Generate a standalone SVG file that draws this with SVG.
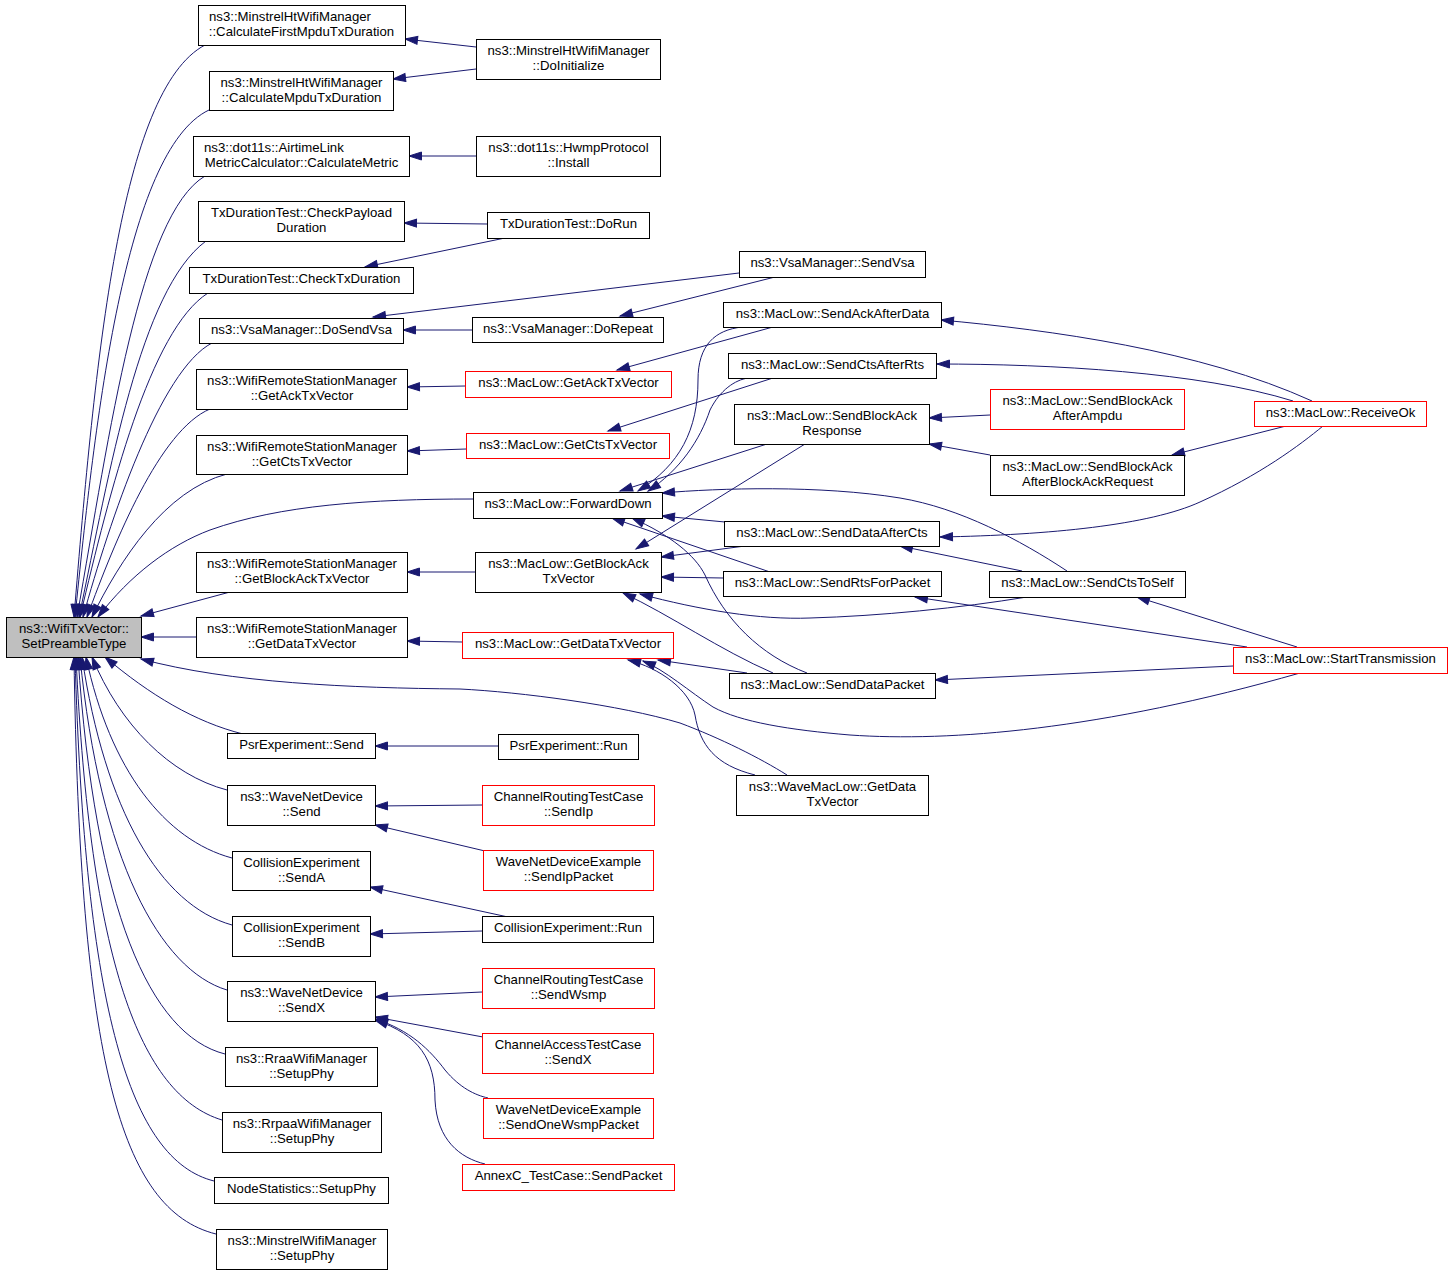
<svg xmlns="http://www.w3.org/2000/svg" width="1456" height="1275" viewBox="0 0 1456 1275">
<style>
.b{fill:#fff;stroke:#000;stroke-width:1}
.r{fill:#fff;stroke:#ff0000;stroke-width:1}
.g{fill:#bfbfbf;stroke:#000;stroke-width:1}
text{font-family:"Liberation Sans",Arial,Helvetica,sans-serif;font-size:13.2px;fill:#000;text-anchor:middle}
text.s{text-anchor:start}
#edges path{fill:none;stroke:#191970;stroke-width:1;marker-start:url(#a)}
</style>
<defs>
<marker id="a" markerWidth="14" markerHeight="10" refX="13" refY="4.5" orient="auto-start-reverse" markerUnits="userSpaceOnUse" overflow="visible">
<path d="M0.5,0.5 L13,4.5 L0.5,8.5 z" fill="#191970" stroke="#191970" stroke-width="1"/>
</marker>
</defs>
<rect width="1456" height="1275" fill="#fff"/>
<g id="edges">
<path d="M74,617 C95,360 120,90 205,45"/>
<path d="M75,617 C95,420 125,150 209,110"/>
<path d="M77,617 C110,430 140,215 205,176"/>
<path d="M79,617 C110,470 140,290 206,241"/>
<path d="M80,617 C110,490 150,330 208,293"/>
<path d="M83,617 C110,520 160,370 212,343"/>
<path d="M87,617 C115,540 160,430 210,409"/>
<path d="M92,617 C120,560 165,490 227,474"/>
<path d="M98,617 C130,575 170,545 210,530 C280,505 370,499 473,499"/>
<path d="M141,616 L230,592"/>
<path d="M141,637 L196,637"/>
<path d="M141,659 C230,683 350,688 460,689 C520,692 620,705 680,723 C720,738 760,758 787,775"/>
<path d="M105,657 C150,695 195,722 243,734"/>
<path d="M92,657 C120,725 170,775 227,790"/>
<path d="M86,657 C110,770 165,840 232,858"/>
<path d="M82,657 C105,810 160,905 232,925"/>
<path d="M80,657 C100,860 160,970 227,990"/>
<path d="M78,657 C95,910 150,1035 225,1054"/>
<path d="M76,657 C90,960 140,1095 222,1120"/>
<path d="M75,657 C85,1010 130,1160 214,1181"/>
<path d="M74,657 C80,1060 120,1210 216,1234"/>
<path d="M405,39 L476,47"/>
<path d="M393,79 L476,69"/>
<path d="M409,156 L476,156"/>
<path d="M404,223 L487,224"/>
<path d="M365,267 L505,238"/>
<path d="M373,317 L739,273"/>
<path d="M403,330 L472,330"/>
<path d="M620,316 L775,277"/>
<path d="M407,387 L465,386"/>
<path d="M407,451 L466,449"/>
<path d="M407,572 L475,572"/>
<path d="M407,641 L462,642"/>
<path d="M617,370 L773,327"/>
<path d="M608,431 L773,378"/>
<path d="M638,491 C680,465 698,430 698,380 C698,345 715,330 742,327"/>
<path d="M648,491 C680,470 700,440 710,410 C720,390 735,380 748,378"/>
<path d="M620,491 L767,444"/>
<path d="M662,493 C720,488 820,485 900,498 C960,508 1020,540 1067,571"/>
<path d="M662,516 L725,522"/>
<path d="M612,518 L770,572"/>
<path d="M632,518 C670,535 695,555 705,575 C725,620 760,655 807,673"/>
<path d="M636,549 L805,444"/>
<path d="M661,557 L745,546"/>
<path d="M661,577 L723,578"/>
<path d="M640,594 C700,610 760,620 810,618 C880,616 960,608 1027,597"/>
<path d="M623,593 C670,615 720,650 773,673"/>
<path d="M658,660 L747,673"/>
<path d="M643,661 C665,670 690,692 713,707 C740,722 790,730 850,735 C950,742 1100,730 1300,673"/>
<path d="M628,660 C660,668 690,690 695,715 C700,745 715,765 755,775"/>
<path d="M941,320 C1050,330 1200,350 1312,401"/>
<path d="M937,364 C1050,364 1200,372 1293,401"/>
<path d="M929,418 L990,415"/>
<path d="M929,444 L990,455"/>
<path d="M1172,455 L1286,426"/>
<path d="M940,537 C1050,535 1150,525 1200,502 C1260,475 1300,445 1323,426"/>
<path d="M900,546 L1022,571"/>
<path d="M915,597 L1247,647"/>
<path d="M1137,597 L1297,647"/>
<path d="M935,680 L1233,666"/>
<path d="M375,746 L498,746"/>
<path d="M375,806 L482,805"/>
<path d="M375,825 L485,851"/>
<path d="M370,887 L508,917"/>
<path d="M370,934 L482,931"/>
<path d="M375,997 L482,992"/>
<path d="M375,1017 L483,1037"/>
<path d="M375,1019 C410,1030 430,1050 445,1070 C460,1088 475,1095 488,1098"/>
<path d="M375,1020 C420,1035 435,1060 435,1100 C437,1140 460,1158 485,1164"/>
</g>
<g id="root"><rect class="g" x="6.5" y="617.5" width="135" height="40"/><text x="74" y="633">ns3::WifiTxVector::</text><text x="74" y="648">SetPreambleType</text></g>
<g id="n1"><rect class="b" x="198.5" y="5.5" width="207" height="40"/><text class="s" x="209" y="21">ns3::MinstrelHtWifiManager</text><text x="301.5" y="36">::CalculateFirstMpduTxDuration</text></g>
<g id="n2"><rect class="b" x="209.5" y="71.5" width="184" height="39"/><text x="301.5" y="87">ns3::MinstrelHtWifiManager</text><text x="301.5" y="102">::CalculateMpduTxDuration</text></g>
<g id="n3"><rect class="b" x="193.5" y="136.5" width="216" height="40"/><text class="s" x="204" y="152">ns3::dot11s::AirtimeLink</text><text x="301.5" y="167">MetricCalculator::CalculateMetric</text></g>
<g id="n4"><rect class="b" x="198.5" y="201.5" width="206" height="40"/><text x="301.5" y="217">TxDurationTest::CheckPayload</text><text x="301.5" y="232">Duration</text></g>
<g id="n5"><rect class="b" x="189.5" y="267.5" width="224" height="26"/><text x="301.5" y="283">TxDurationTest::CheckTxDuration</text></g>
<g id="n6"><rect class="b" x="476.5" y="39.5" width="184" height="40"/><text x="568.5" y="55">ns3::MinstrelHtWifiManager</text><text x="568.5" y="70">::DoInitialize</text></g>
<g id="n7"><rect class="b" x="476.5" y="136.5" width="184" height="40"/><text x="568.5" y="152">ns3::dot11s::HwmpProtocol</text><text x="568.5" y="167">::Install</text></g>
<g id="n8"><rect class="b" x="487.5" y="212.5" width="162" height="26"/><text x="568.5" y="228">TxDurationTest::DoRun</text></g>
<g id="n9"><rect class="b" x="739.5" y="251.5" width="186" height="26"/><text x="832.5" y="267">ns3::VsaManager::SendVsa</text></g>
<g id="n10"><rect class="b" x="199.5" y="318.5" width="204" height="25"/><text x="301.5" y="334">ns3::VsaManager::DoSendVsa</text></g>
<g id="n11"><rect class="b" x="196.5" y="369.5" width="211" height="40"/><text x="302" y="385">ns3::WifiRemoteStationManager</text><text x="302" y="400">::GetAckTxVector</text></g>
<g id="n12"><rect class="b" x="196.5" y="435.5" width="211" height="39"/><text x="302" y="451">ns3::WifiRemoteStationManager</text><text x="302" y="466">::GetCtsTxVector</text></g>
<g id="n13"><rect class="b" x="196.5" y="552.5" width="211" height="40"/><text x="302" y="568">ns3::WifiRemoteStationManager</text><text x="302" y="583">::GetBlockAckTxVector</text></g>
<g id="n14"><rect class="b" x="196.5" y="617.5" width="211" height="40"/><text x="302" y="633">ns3::WifiRemoteStationManager</text><text x="302" y="648">::GetDataTxVector</text></g>
<g id="n16"><rect class="b" x="472.5" y="317.5" width="191" height="25"/><text x="568" y="333">ns3::VsaManager::DoRepeat</text></g>
<g id="n17"><rect class="r" x="465.5" y="371.5" width="206" height="26"/><text x="568.5" y="387">ns3::MacLow::GetAckTxVector</text></g>
<g id="n18"><rect class="r" x="466.5" y="433.5" width="203" height="25"/><text x="568" y="449">ns3::MacLow::GetCtsTxVector</text></g>
<g id="n19"><rect class="b" x="473.5" y="492.5" width="189" height="26"/><text x="568" y="508">ns3::MacLow::ForwardDown</text></g>
<g id="n20"><rect class="b" x="475.5" y="552.5" width="186" height="40"/><text x="568.5" y="568">ns3::MacLow::GetBlockAck</text><text x="568.5" y="583">TxVector</text></g>
<g id="n21"><rect class="r" x="462.5" y="632.5" width="211" height="26"/><text x="568" y="648">ns3::MacLow::GetDataTxVector</text></g>
<g id="n22"><rect class="b" x="723.5" y="302.5" width="218" height="25"/><text x="832.5" y="318">ns3::MacLow::SendAckAfterData</text></g>
<g id="n23"><rect class="b" x="728.5" y="353.5" width="208" height="25"/><text x="832.5" y="369">ns3::MacLow::SendCtsAfterRts</text></g>
<g id="n24"><rect class="b" x="734.5" y="404.5" width="195" height="40"/><text x="832" y="420">ns3::MacLow::SendBlockAck</text><text x="832" y="435">Response</text></g>
<g id="n25"><rect class="b" x="724.5" y="521.5" width="215" height="25"/><text x="832" y="537">ns3::MacLow::SendDataAfterCts</text></g>
<g id="n26"><rect class="b" x="723.5" y="571.5" width="218" height="25"/><text x="832.5" y="587">ns3::MacLow::SendRtsForPacket</text></g>
<g id="n27"><rect class="b" x="729.5" y="673.5" width="206" height="25"/><text x="832.5" y="689">ns3::MacLow::SendDataPacket</text></g>
<g id="n28"><rect class="r" x="990.5" y="389.5" width="194" height="40"/><text x="1087.5" y="405">ns3::MacLow::SendBlockAck</text><text x="1087.5" y="420">AfterAmpdu</text></g>
<g id="n29"><rect class="b" x="990.5" y="455.5" width="194" height="40"/><text x="1087.5" y="471">ns3::MacLow::SendBlockAck</text><text x="1087.5" y="486">AfterBlockAckRequest</text></g>
<g id="n30"><rect class="r" x="1254.5" y="401.5" width="172" height="25"/><text x="1340.5" y="417">ns3::MacLow::ReceiveOk</text></g>
<g id="n31"><rect class="b" x="989.5" y="571.5" width="196" height="26"/><text x="1087.5" y="587">ns3::MacLow::SendCtsToSelf</text></g>
<g id="n32"><rect class="r" x="1233.5" y="647.5" width="214" height="26"/><text x="1340.5" y="663">ns3::MacLow::StartTransmission</text></g>
<g id="n33"><rect class="b" x="227.5" y="733.5" width="148" height="25"/><text x="301.5" y="749">PsrExperiment::Send</text></g>
<g id="n34"><rect class="b" x="227.5" y="785.5" width="148" height="40"/><text x="301.5" y="801">ns3::WaveNetDevice</text><text x="301.5" y="816">::Send</text></g>
<g id="n35"><rect class="b" x="232.5" y="851.5" width="138" height="39"/><text x="301.5" y="867">CollisionExperiment</text><text x="301.5" y="882">::SendA</text></g>
<g id="n36"><rect class="b" x="232.5" y="916.5" width="138" height="40"/><text x="301.5" y="932">CollisionExperiment</text><text x="301.5" y="947">::SendB</text></g>
<g id="n37"><rect class="b" x="227.5" y="981.5" width="148" height="40"/><text x="301.5" y="997">ns3::WaveNetDevice</text><text x="301.5" y="1012">::SendX</text></g>
<g id="n38"><rect class="b" x="225.5" y="1047.5" width="152" height="39"/><text x="301.5" y="1063">ns3::RraaWifiManager</text><text x="301.5" y="1078">::SetupPhy</text></g>
<g id="n39"><rect class="b" x="222.5" y="1112.5" width="159" height="40"/><text x="302" y="1128">ns3::RrpaaWifiManager</text><text x="302" y="1143">::SetupPhy</text></g>
<g id="n40"><rect class="b" x="214.5" y="1177.5" width="174" height="26"/><text x="301.5" y="1193">NodeStatistics::SetupPhy</text></g>
<g id="n41"><rect class="b" x="216.5" y="1229.5" width="171" height="40"/><text x="302" y="1245">ns3::MinstrelWifiManager</text><text x="302" y="1260">::SetupPhy</text></g>
<g id="n42"><rect class="b" x="498.5" y="734.5" width="140" height="25"/><text x="568.5" y="750">PsrExperiment::Run</text></g>
<g id="n43"><rect class="b" x="736.5" y="775.5" width="192" height="40"/><text x="832.5" y="791">ns3::WaveMacLow::GetData</text><text x="832.5" y="806">TxVector</text></g>
<g id="n44"><rect class="r" x="482.5" y="785.5" width="172" height="40"/><text x="568.5" y="801">ChannelRoutingTestCase</text><text x="568.5" y="816">::SendIp</text></g>
<g id="n45"><rect class="r" x="483.5" y="850.5" width="170" height="40"/><text x="568.5" y="866">WaveNetDeviceExample</text><text x="568.5" y="881">::SendIpPacket</text></g>
<g id="n46"><rect class="b" x="482.5" y="916.5" width="171" height="26"/><text x="568" y="932">CollisionExperiment::Run</text></g>
<g id="n47"><rect class="r" x="482.5" y="968.5" width="172" height="40"/><text x="568.5" y="984">ChannelRoutingTestCase</text><text x="568.5" y="999">::SendWsmp</text></g>
<g id="n48"><rect class="r" x="482.5" y="1033.5" width="171" height="40"/><text x="568" y="1049">ChannelAccessTestCase</text><text x="568" y="1064">::SendX</text></g>
<g id="n49"><rect class="r" x="483.5" y="1098.5" width="170" height="40"/><text x="568.5" y="1114">WaveNetDeviceExample</text><text x="568.5" y="1129">::SendOneWsmpPacket</text></g>
<g id="n50"><rect class="r" x="462.5" y="1164.5" width="212" height="26"/><text x="568.5" y="1180">AnnexC_TestCase::SendPacket</text></g>
</svg>
